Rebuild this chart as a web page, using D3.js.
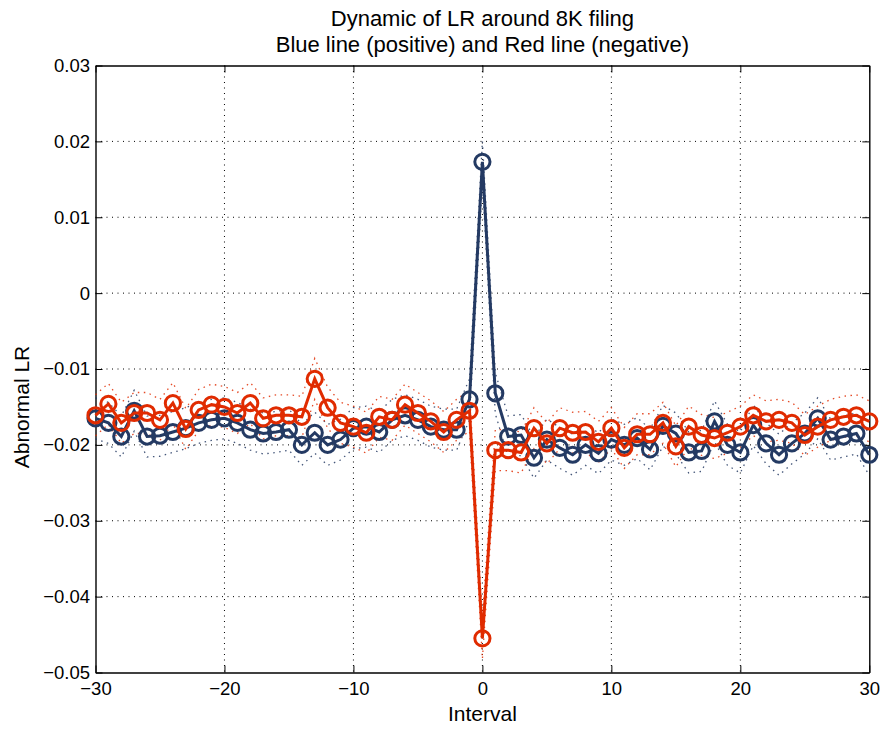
<!DOCTYPE html>
<html>
<head>
<meta charset="utf-8">
<script src="https://cdn.jsdelivr.net/npm/d3@7"></script>
<style>
  body { margin: 0; background: #fff; }
  svg text { font-family: "Liberation Sans", Arial, sans-serif; fill: #000; }
</style>
</head>
<body>
<div id="chart"></div>
<script>
// interval axis (-30 .. 30)
const intervals = d3.range(-30, 31);

// blue line (positive)
const bluePos = [
    -0.0165, -0.0171, -0.0189, -0.0155, -0.0189, -0.0188, -0.0183, -0.0178, -0.0171, -0.0167,
    -0.0165, -0.0171, -0.0180, -0.0185, -0.0183, -0.0180, -0.0200, -0.0184, -0.0200, -0.0193,
    -0.0178, -0.0176, -0.0183, -0.0167, -0.0161, -0.0167, -0.0176, -0.0180, -0.0180, -0.0140,
    0.0173,
    -0.0132, -0.0189, -0.0187, -0.0217, -0.0193, -0.0204, -0.0213, -0.0200, -0.0211, -0.0193,
    -0.0200, -0.0191, -0.0206, -0.0175, -0.0185, -0.0210, -0.0208, -0.0169, -0.0200, -0.0210,
    -0.0174, -0.0198, -0.0213, -0.0198, -0.0185, -0.0165, -0.0193, -0.0189, -0.0185, -0.0213
];

// red line (negative)
const redNeg = [
    -0.0161, -0.0146, -0.0171, -0.0158, -0.0158, -0.0167, -0.0145, -0.0179, -0.0154, -0.0147,
    -0.0150, -0.0158, -0.0145, -0.0165, -0.0161, -0.0161, -0.0163, -0.0113, -0.0151, -0.0171,
    -0.0176, -0.0184, -0.0163, -0.0167, -0.0147, -0.0158, -0.0169, -0.0183, -0.0167, -0.0155,
    -0.0455,
    -0.0207, -0.0207, -0.0210, -0.0178, -0.0198, -0.0178, -0.0184, -0.0183, -0.0196, -0.0178,
    -0.0204, -0.0186, -0.0186, -0.0171, -0.0202, -0.0176, -0.0187, -0.0191, -0.0184, -0.0176,
    -0.0161, -0.0169, -0.0167, -0.0171, -0.0187, -0.0176, -0.0167, -0.0163, -0.0161, -0.0169
];

// half width of the dotted bands
const blueHalfWidth = 0.0027;
const redHalfWidth = 0.0027;

const xTicks = [-30, -20, -10, 0, 10, 20, 30];
const yTicks = [0.03, 0.02, 0.01, 0, -0.01, -0.02, -0.03, -0.04, -0.05];

const titleLines = ["Dynamic of LR around 8K filing", "Blue line (positive) and Red line (negative)"];

const colors = { blue: "#243a63", red: "#e02b00" };

const W = 886, H = 729;
const margin = { left: 95.5, top: 65.5, right: 16.7, bottom: 56.5 };
const width = W - margin.left - margin.right;
const height = H - margin.top - margin.bottom;

const svg = d3.select("#chart")
    .append("svg")
    .attr("width", W)
    .attr("height", H);

const g = svg.append("g")
    .attr("transform", `translate(${margin.left}, ${margin.top})`);

const x = d3.scaleLinear().domain([-30, 30]).range([0, width]);
const y = d3.scaleLinear().domain([-0.05, 0.03]).range([height, 0]);

const yFormat = d => d === 0 ? "0" : d3.format(".2f")(d);

// grid
g.append("g")
    .selectAll("line")
    .data(xTicks.slice(1, -1))
    .join("line")
    .attr("x1", d => x(d)).attr("x2", d => x(d))
    .attr("y1", 0).attr("y2", height)
    .attr("stroke", "#000")
    .attr("stroke-width", 1)
    .attr("stroke-dasharray", "1,4.5");
g.append("g")
    .selectAll("line")
    .data(yTicks.slice(1, -1))
    .join("line")
    .attr("x1", 0).attr("x2", width)
    .attr("y1", d => y(d)).attr("y2", d => y(d))
    .attr("stroke", "#000")
    .attr("stroke-width", 1)
    .attr("stroke-dasharray", "1,4.5");

// axes, ticks inside
const xAxis = g.append("g")
    .attr("transform", `translate(0, ${height})`)
    .call(d3.axisBottom(x).tickValues(xTicks).tickSizeInner(-7).tickSizeOuter(0).tickPadding(9.5)
        .tickFormat(d3.format("d")));
const yAxis = g.append("g")
    .call(d3.axisLeft(y).tickValues(yTicks).tickSizeInner(-7).tickSizeOuter(0).tickPadding(5.5)
        .tickFormat(yFormat));
g.append("g")
    .call(d3.axisTop(x).tickValues(xTicks).tickSizeInner(-7).tickSizeOuter(0).tickFormat(""));
g.append("g")
    .attr("transform", `translate(${width}, 0)`)
    .call(d3.axisRight(y).tickValues(yTicks).tickSizeInner(-7).tickSizeOuter(0).tickFormat(""));

g.selectAll(".domain").attr("stroke", "#000").attr("stroke-width", 1.4);
g.selectAll(".tick line").attr("stroke", "#000").attr("stroke-width", 1);
g.selectAll(".tick text").style("font-size", "18.5px");

const series = [
    { values: bluePos, half: blueHalfWidth, color: colors.blue },
    { values: redNeg, half: redHalfWidth, color: colors.red }
];

const line = d3.line().x(d => x(d[0])).y(d => y(d[1]));

// dotted bands
series.forEach(s => {
    [s.half, -s.half].forEach(h => {
        g.append("path")
            .datum(intervals.map((t, i) => [t, s.values[i] + h]))
            .attr("d", line)
            .attr("fill", "none")
            .attr("stroke", s.color)
            .attr("stroke-width", 1.3)
            .attr("stroke-opacity", 0.85)
            .attr("stroke-dasharray", "1.5,4.5");
    });
});

// main lines with circles
series.forEach(s => {
    const pts = intervals.map((t, i) => [t, s.values[i]]);
    g.append("path")
        .datum(pts)
        .attr("d", line)
        .attr("fill", "none")
        .attr("stroke", s.color)
        .attr("stroke-width", 3);
    g.append("g")
        .selectAll("circle")
        .data(pts)
        .join("circle")
        .attr("cx", d => x(d[0]))
        .attr("cy", d => y(d[1]))
        .attr("r", 7.6)
        .attr("fill", "none")
        .attr("stroke", s.color)
        .attr("stroke-width", 3);
});

// title
svg.append("g")
    .selectAll("text")
    .data(titleLines)
    .join("text")
    .attr("x", margin.left + width / 2)
    .attr("y", (d, i) => 26 + i * 26)
    .attr("text-anchor", "middle")
    .style("font-size", "22px")
    .text(d => d);

svg.append("text")
    .attr("x", margin.left + width / 2)
    .attr("y", 721)
    .attr("text-anchor", "middle")
    .style("font-size", "21px")
    .text("Interval");

svg.append("text")
    .attr("transform", `translate(29, 407) rotate(-90)`)
    .attr("text-anchor", "middle")
    .style("font-size", "21px")
    .text("Abnormal LR");
</script>
</body>
</html>
